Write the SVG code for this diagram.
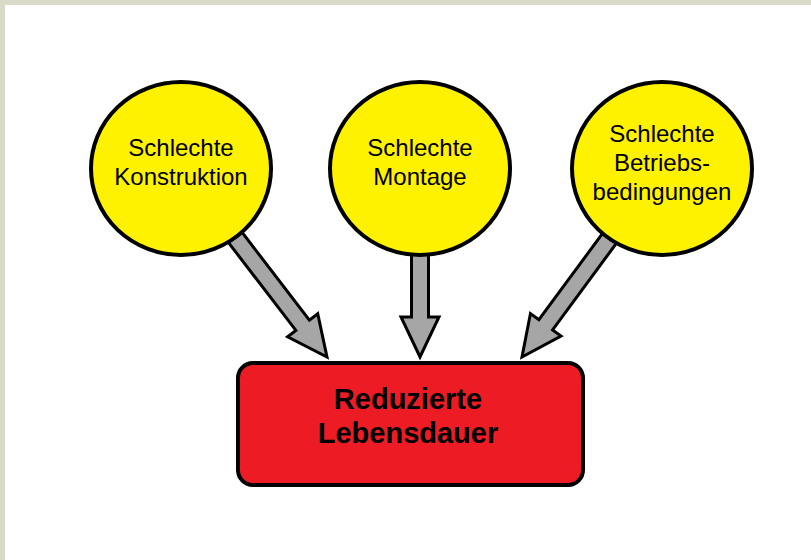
<svg xmlns="http://www.w3.org/2000/svg" width="811" height="560" viewBox="0 0 811 560">
<defs>
<style>
.bg{fill:#ffffff}
.frame{fill:#d9dbc8}
.cause{fill:#fff200;stroke:#000000;stroke-width:4}
.effect{fill:#ed1c24;stroke:#000000;stroke-width:4}
.arrow{fill:#a6a6a6;stroke:#000000;stroke-width:3;stroke-linejoin:miter}
.t{font-family:"Liberation Sans",Arial,sans-serif;font-size:24px;fill:#000000;text-anchor:middle}
.tb{font-family:"Liberation Sans",Arial,sans-serif;font-size:29px;font-weight:bold;fill:#000000;text-anchor:middle}
</style>
<polygon id="arr" points="-8.5,-170 8.5,-170 8.5,-40 19,-40 0,0 -19,-40 -8.5,-40"/>
</defs>
<rect class="bg" x="0" y="0" width="811" height="560"/>
<rect class="frame" x="0" y="0" width="811" height="5"/>
<rect class="frame" x="0" y="0" width="5" height="560"/>
<g id="connectors">
<use href="#arr" class="arrow" transform="translate(327,357) rotate(-37.5)"/>
<use href="#arr" class="arrow" transform="translate(420,357)"/>
<use href="#arr" class="arrow" transform="translate(522,357) rotate(36.4)"/>
</g>
<g id="node-konstruktion">
<ellipse class="cause" cx="181" cy="168.5" rx="90" ry="86.5"/>
<text class="t" x="181" y="156">Schlechte</text>
<text class="t" x="181" y="185">Konstruktion</text>
</g>
<g id="node-montage">
<ellipse class="cause" cx="420" cy="168.5" rx="90" ry="86.5"/>
<text class="t" x="420" y="156">Schlechte</text>
<text class="t" x="420" y="185">Montage</text>
</g>
<g id="node-betrieb">
<ellipse class="cause" cx="662" cy="168.5" rx="90" ry="86.5"/>
<text class="t" x="662" y="142">Schlechte</text>
<text class="t" x="662" y="171">Betriebs-</text>
<text class="t" x="662" y="200">bedingungen</text>
</g>
<g id="node-lebensdauer">
<rect class="effect" x="238" y="363" width="345" height="122" rx="15" ry="15"/>
<text class="tb" x="408" y="409">Reduzierte</text>
<text class="tb" x="408" y="443">Lebensdauer</text>
</g>
</svg>
